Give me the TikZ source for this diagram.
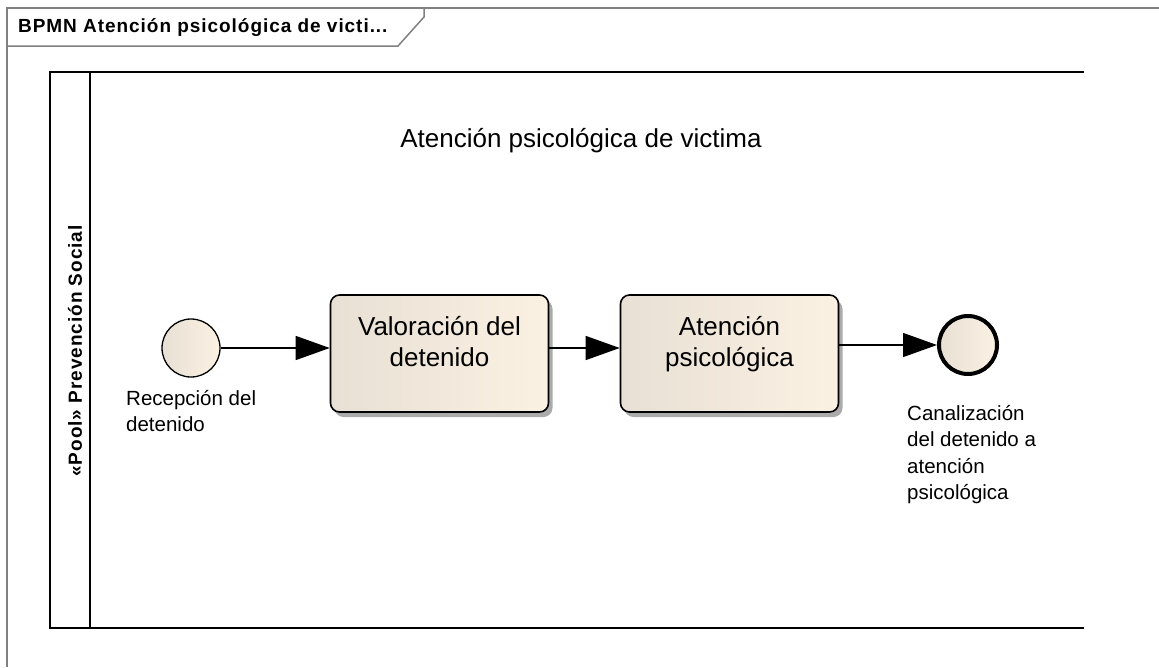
\documentclass[tikz,border=0pt]{standalone}
\usepackage{fontspec}
\setmainfont{Liberation Sans}
\newfontfamily\headfont{Liberation Sans}[LetterSpace=5]
\usepackage{tikz}
\usetikzlibrary{positioning}
\usetikzlibrary{arrows.meta}
\usetikzlibrary{shadows}
\definecolor{tasklight}{RGB}{251,241,227}
\definecolor{taskdark}{RGB}{232,224,212}
\definecolor{framegray}{RGB}{128,128,128}

\begin{document}
\begin{tikzpicture}[x=1pt,y=-1pt,
	frameline/.style={framegray,line width=1.5pt},
	poolline/.style={black,line width=2.6pt},
	task/.style={draw,line width=1.6pt,rounded corners=9pt,left color=taskdark,right color=tasklight,
		minimum width=218pt,minimum height=117pt,
		drop shadow={shadow xshift=4pt,shadow yshift=-5pt,fill=black!55,opacity=.6}},
	tasktext/.style={align=center,inner sep=0pt,font=\fontsize{26}{31}\selectfont},
	event/.style={circle,draw,left color=taskdark,right color=tasklight,minimum size=58pt,inner sep=0pt},
	flow/.style={line width=1.4pt,-{Triangle[length=34pt,width=24pt]}},
	lbl/.style={align=left,inner sep=0pt,anchor=north west,font=\fontsize{20.5}{26.5}\selectfont}]
	
	\useasboundingbox (0,0) rectangle (1159,667);
	
	% frame of the diagram
	\draw[frameline] (1159,8) -- (7,8) -- (7,667);
	\draw[frameline] (7,46) -- (398,46) -- (424,17) -- (424,8);
	\node[anchor=base west,inner sep=0pt,font=\headfont\bfseries\fontsize{19}{22}\selectfont] (head) at (18,32) {BPMN Atención psicológica de victi...};
	
	% pool
	\draw[poolline] (1084,72) -- (50,72) -- (50,628) -- (1084,628);
	\draw[poolline] (90,72) -- (90,628);
	\node[rotate=90,font=\headfont\bfseries\fontsize{19}{22}\selectfont] (pool) at (75,351) {«Pool» Prevención Social};
	
	\node[anchor=base,inner sep=0pt,font=\fontsize{26}{31}\selectfont] (titulo) at (581,147) {Atención psicológica de victima};
	
	% events and tasks
	\node[event,line width=1.3pt] (ini) at (191,348) {};
	\node[task] (val) at (439.5,353.5) {};
	\node[task] (ate) at (729.5,353.5) {};
	\node[event,line width=4pt] (fin) at (968,345) {};
	
	\node[tasktext,below=22pt of val.north] (valtxt) {Valoración del\\detenido};
	\node[tasktext,below=22pt of ate.north] (atetxt) {Atención\\psicológica};
	
	\node[lbl] (initxt) at (126,390) {Recepción del\\detenido};
	\node[lbl] (fintxt) at (907,405) {Canalización\\del detenido a\\atención\\psicológica};
	
	% sequence flows
	\draw[flow] (ini) -- (ini -| val.west);
	\draw[flow] (val.east |- ini) -- (ate.west |- ini);
	\draw[flow] (ate.east |- fin) -- (fin);
	
\end{tikzpicture}
\end{document}
